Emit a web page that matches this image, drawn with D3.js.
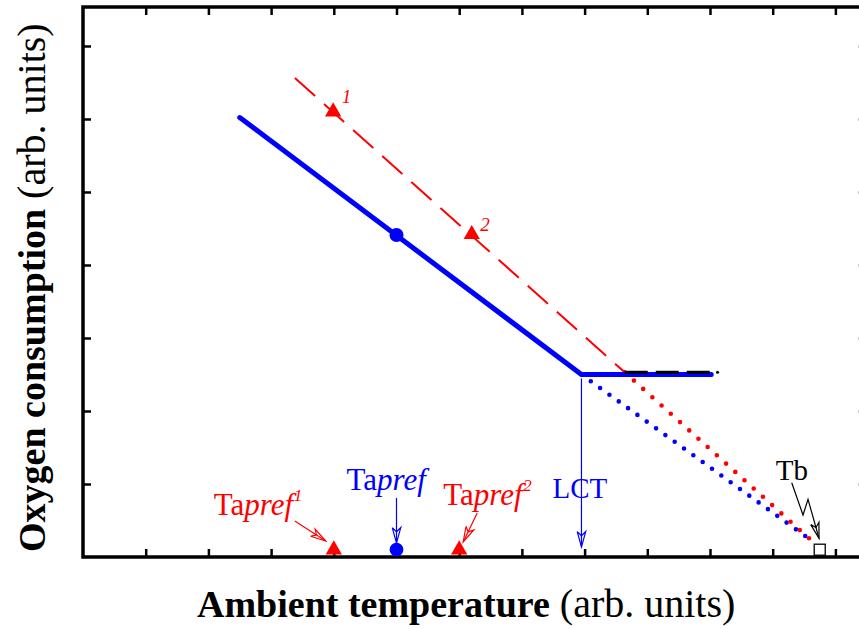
<!DOCTYPE html>
<meta charset="utf-8">
<script src="https://d3js.org/d3.v7.min.js"></script>
<style>
  body { margin: 0; background: #fff; }
  text { font-family: "Liberation Serif", "DejaVu Serif", serif; }
</style>
<body>
<div id="my_dataviz"></div>
<script>
// tick positions (arbitrary units, no labels)
var xTickValues = [1, 2, 3, 4, 5, 6, 7, 8, 9, 10, 11, 12];
var yTickValues = [1, 2, 3, 4, 5, 6, 7];

// blue curve: cold-side slope, LCT corner, thermoneutral plateau
var blueSolid = [{x: 2.5, y: 6.02}, {x: 7.95, y: 2.5}, {x: 10.02, y: 2.5}];
var blueDotted = [{x: 7.95, y: 2.5}, {x: 11.53, y: 0.28}];
var bluePoint = {x: 5.0, y: 4.41};

// red curve (dashed) and its extrapolation to Tb
var redDashed = [{x: 3.38, y: 6.56}, {x: 8.64, y: 2.53}];
var redDotted = [{x: 8.64, y: 2.53}, {x: 11.6, y: 0.24}];
var redPoints = [{x: 3.99, y: 6.10, label: "1"}, {x: 6.2, y: 4.42, label: "2"}];

// black dashed plateau for red curve
var blackPlateau = [{x: 8.64, y: 2.53}, {x: 10.02, y: 2.53}];
var blackDot = {x: 10.12, y: 2.53};

// preferred temperatures marked on the x axis, and body temperature
var prefMarks = [
  {x: 4, y: 0.1, shape: "triangle", color: "#ff0000", sup: "1"},
  {x: 5, y: 0.1, shape: "circle", color: "#0000ff", sup: ""},
  {x: 6, y: 0.1, shape: "triangle", color: "#ff0000", sup: "2"}
];
var lct = {x: 7.95, y: 2.5};
var tb = {x: 11.75, y: 0.1};

var W = 859, H = 629;
var svg = d3.select("#my_dataviz").append("svg")
    .attr("width", W).attr("height", H);

var x = d3.scaleLinear().domain([0, 12.5]).range([83, 866.75]);
var y = d3.scaleLinear().domain([0, 7.534]).range([557, 7]);

var line = d3.line().x(function(d) { return x(d.x); }).y(function(d) { return y(d.y); });

// ticks on all four sides, pointing inward
function ticks(g) {
  g.select(".domain").remove();
  g.selectAll(".tick line").attr("stroke", "#000").attr("stroke-width", 2.5);
}
svg.append("g").attr("transform", "translate(0," + y(0) + ")")
  .call(d3.axisBottom(x).tickValues(xTickValues).tickSize(-8).tickFormat("")).call(ticks);
svg.append("g").attr("transform", "translate(0," + y(7.534) + ")")
  .call(d3.axisTop(x).tickValues(xTickValues).tickSize(-8).tickFormat("")).call(ticks);
svg.append("g").attr("transform", "translate(" + x(0) + ",0)")
  .call(d3.axisLeft(y).tickValues(yTickValues).tickSize(-8).tickFormat("")).call(ticks);
svg.append("g").attr("transform", "translate(" + x(12.5) + ",0)")
  .call(d3.axisRight(y).tickValues(yTickValues).tickSize(-8).tickFormat("")).call(ticks);

svg.append("rect")
  .attr("x", x(0)).attr("y", y(7.534))
  .attr("width", x(12.5) - x(0)).attr("height", y(0) - y(7.534))
  .attr("fill", "none").attr("stroke", "#000").attr("stroke-width", 3.5);

// dotted extrapolations
svg.append("path").datum(blueDotted).attr("d", line)
  .attr("fill", "none").attr("stroke", "#0000ff").attr("stroke-width", 4.6)
  .attr("stroke-linecap", "round").attr("stroke-dasharray", "0 11.5");
svg.append("path").datum(redDotted).attr("d", line)
  .attr("fill", "none").attr("stroke", "#ff0000").attr("stroke-width", 4.6)
  .attr("stroke-linecap", "round").attr("stroke-dasharray", "0 12.4");

// red dashed
svg.append("path").datum(redDashed).attr("d", line)
  .attr("fill", "none").attr("stroke", "#ff0000").attr("stroke-width", 2)
  .attr("stroke-dasharray", "27 12");

// blue solid
svg.append("path").datum(blueSolid).attr("d", line)
  .attr("fill", "none").attr("stroke", "#0000ff").attr("stroke-width", 5)
  .attr("stroke-linecap", "round").attr("stroke-linejoin", "round");

// black dashed plateau
svg.append("path").datum(blackPlateau).attr("d", line)
  .attr("fill", "none").attr("stroke", "#000").attr("stroke-width", 3)
  .attr("stroke-dasharray", "23 8");
svg.append("circle").attr("cx", x(blackDot.x)).attr("cy", y(blackDot.y))
  .attr("r", 1.5).attr("fill", "#000");

var tri = d3.symbol().type(d3.symbolTriangle).size(115);

// markers on the curves
svg.selectAll(".redpt").data(redPoints).enter().append("path")
  .attr("d", tri)
  .attr("transform", function(d) { return "translate(" + x(d.x) + "," + y(d.y) + ")"; })
  .attr("fill", "#ff0000");
svg.selectAll(".redlab").data(redPoints).enter().append("text")
  .attr("x", function(d, i) { return x(d.x) + 8.5; })
  .attr("y", function(d, i) { return y(d.y) + (i === 0 ? -8.5 : -3.5); })
  .attr("fill", "#ff0000").style("font-style", "italic").style("font-size", "19px")
  .text(function(d) { return d.label; });
svg.append("circle").attr("cx", x(bluePoint.x)).attr("cy", y(bluePoint.y))
  .attr("r", 7).attr("fill", "#0000ff");

// markers on the x axis
svg.selectAll(".pref").data(prefMarks).enter().append("path")
  .attr("d", function(d) {
    return d.shape === "circle" ? d3.symbol().type(d3.symbolCircle).size(150)() : tri();
  })
  .attr("transform", function(d) { return "translate(" + x(d.x) + "," + y(d.y) + ")"; })
  .attr("fill", function(d) { return d.color; });

svg.append("rect")
  .attr("x", x(tb.x) - 5.5).attr("y", y(tb.y) - 5.5)
  .attr("width", 11).attr("height", 11)
  .attr("fill", "#fff").attr("stroke", "#000").attr("stroke-width", 1.3);

// arrow with a narrow open head ending at the last point
function arrow(pts, color) {
  var n = pts.length;
  var x1 = pts[n - 2][0], y1 = pts[n - 2][1], x2 = pts[n - 1][0], y2 = pts[n - 1][1];
  var a = Math.atan2(y2 - y1, x2 - x1);
  var L = 16, s = 0.27;
  var b1 = [x2 - L * Math.cos(a - s), y2 - L * Math.sin(a - s)];
  var b2 = [x2 - L * Math.cos(a + s), y2 - L * Math.sin(a + s)];
  var m = [x2 - 0.7 * L * Math.cos(a), y2 - 0.7 * L * Math.sin(a)];
  svg.append("path").attr("d", d3.line()(pts))
    .attr("fill", "none").attr("stroke", color).attr("stroke-width", 1.2);
  svg.append("path").attr("d", d3.line()([b1, pts[n - 1], b2, m, b1]))
    .attr("fill", "none").attr("stroke", color).attr("stroke-width", 1.2)
    .attr("stroke-linejoin", "miter");
}

function taLabel(px, py, color, sup) {
  var t = svg.append("text").attr("x", px).attr("y", py)
    .attr("fill", color).style("font-size", "31px");
  t.append("tspan").text("Ta");
  t.append("tspan").style("font-style", "italic").text("pref");
  if (sup) {
    svg.append("text").attr("x", px + 80).attr("y", py - 14)
      .attr("fill", color).style("font-size", "17px").style("font-style", "italic")
      .text(sup);
  }
}

// Tapref labels and arrows
var p1 = prefMarks[0], p0 = prefMarks[1], p2 = prefMarks[2];
taLabel(x(p1.x) - 120, y(0) - 42, "#ff0000", p1.sup);
arrow([[x(p1.x) - 39, y(0) - 36], [x(p1.x) - 8, y(0) - 16]], "#ff0000");

taLabel(x(p0.x) - 50, y(0) - 67, "#0000ff", "");
arrow([[x(p0.x), y(0) - 59], [x(p0.x), y(0) - 14]], "#0000ff");

taLabel(x(p2.x) - 16, y(0) - 52, "#ff0000", p2.sup);
arrow([[x(p2.x) + 18, y(0) - 44], [x(p2.x) + 4, y(0) - 15]], "#ff0000");

// LCT
svg.append("text").attr("x", x(lct.x) - 29).attr("y", y(0) - 59)
  .attr("fill", "#0000ff").style("font-size", "29px").text("LCT");
arrow([[x(lct.x), y(lct.y) + 4], [x(lct.x), y(0) - 10]], "#0000ff");

// Tb
svg.append("text").attr("x", x(tb.x) - 44).attr("y", y(tb.y) - 70)
  .attr("fill", "#000").style("font-size", "29px").text("Tb");
var tx = x(tb.x), ty = y(tb.y);
arrow([[tx - 28, ty - 67], [tx - 16.7, ty - 34.7], [tx - 11.7, ty - 50.4], [tx - 0.7, ty - 11.4]], "#000");

// axis titles
var xt = svg.append("text").attr("x", 197).attr("y", 617).style("font-size", "38px");
xt.append("tspan").style("font-weight", "bold").text("Ambient temperature");
xt.append("tspan").style("font-size", "40px").text(" (arb. units)");

var yt = svg.append("text").attr("transform", "translate(45,552) rotate(-90)").style("font-size", "38px");
yt.append("tspan").style("font-weight", "bold").text("Oxygen consumption");
yt.append("tspan").style("font-size", "40px").text(" (arb. units)");
</script>
</body>
